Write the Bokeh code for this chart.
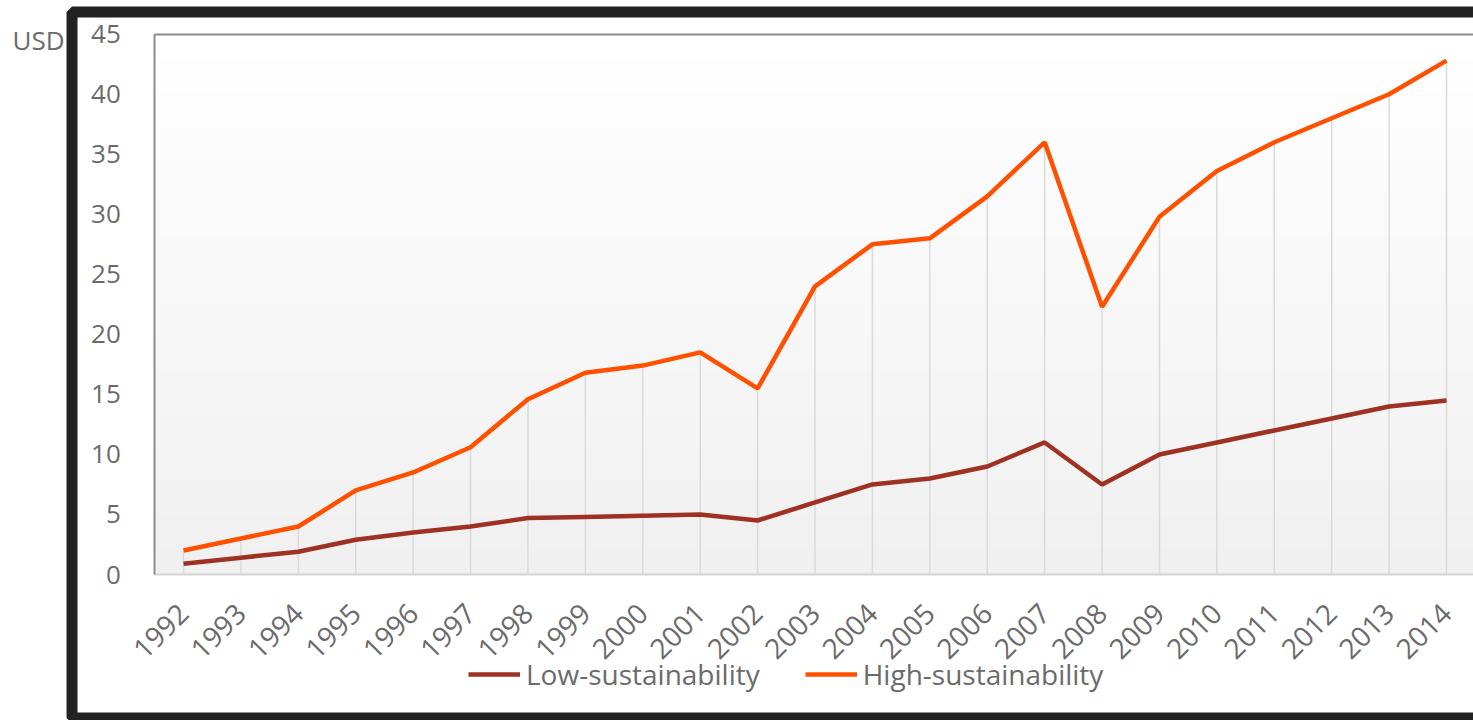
import numpy as np
from bokeh.plotting import figure
from bokeh.models import Range1d, FixedTicker, LinearAxis, BoxAnnotation, Label, Legend, LegendItem
from bokeh.embed import file_html
from bokeh.resources import INLINE

years = list(range(1992, 2015))
high = [2.0, 3.0, 4.0, 7.0, 8.5, 10.6, 14.6, 16.8, 17.4, 18.5, 15.5, 24.0,
        27.5, 28.0, 31.5, 36.0, 22.3, 29.8, 33.6, 36.0, 38.0, 40.0, 42.8]
low = [0.9, 1.4, 1.9, 2.9, 3.5, 4.0, 4.7, 4.8, 4.9, 5.0, 4.5, 6.0,
       7.5, 8.0, 9.0, 11.0, 7.5, 10.0, 11.0, 12.0, 13.0, 14.0, 14.5]
y_ticks = [0, 5, 10, 15, 20, 25, 30, 35, 40, 45]

FONT = "Open Sans"
TXT = "#6b6b6b"
X0, X1 = 1991.5, 2014.5   # plot area in data units
Y0, Y1 = 0, 45

p = figure(width=1473, height=720, output_backend="svg", toolbar_location=None,
           x_range=Range1d(1988.812, 2014.470), y_range=Range1d(-12.16, 47.81),
           min_border=0)
p.xgrid.visible = False
p.ygrid.visible = False
p.outline_line_color = None
p.background_fill_color = "white"
p.border_fill_color = "white"

# gradient background of the plot area (decorative)
N = 64
img = np.empty((N, 1), dtype=np.uint32)
view = img.view(dtype=np.uint8).reshape((N, 1, 4))
for i in range(N):
    v = int(round(240 + 15 * i / (N - 1)))
    view[i, 0, :] = [v, v, v, 255]
p.image_rgba(image=[img], x=X0, y=Y0, dw=X1 - X0, dh=Y1 - Y0)

# drop lines
p.segment(x0=years, y0=[0] * len(years), x1=years, y1=high, line_color="#dadada", line_width=1.5)

r_low = p.line(years, low, line_color="#9e3122", line_width=4.5)
r_high = p.line(years, high, line_color="#ff5000", line_width=4.5)

# axes (drawn at fixed locations inside the canvas)
xa = p.xaxis[0]
xa.fixed_location = 0
xa.bounds = (X0, 2016)
xa.ticker = FixedTicker(ticks=years)
xa.major_label_orientation = np.pi / 4
xa.major_label_text_font = FONT
xa.major_label_text_font_size = "28px"
xa.major_label_text_color = TXT
xa.major_label_standoff = 28
xa.major_tick_line_color = None
xa.minor_tick_line_color = None
xa.axis_line_color = "#d4d4d4"
xa.axis_line_width = 2

ya = p.yaxis[0]
ya.fixed_location = X0
ya.bounds = (Y0, Y1)
ya.ticker = FixedTicker(ticks=y_ticks)
ya.major_label_text_font = FONT
ya.major_label_text_font_size = "26px"
ya.major_label_text_color = TXT
ya.major_label_standoff = 28
ya.major_tick_line_color = None
ya.minor_tick_line_color = None
ya.axis_line_color = "#8c8c8c"
ya.axis_line_width = 2

top_axis = LinearAxis(fixed_location=Y1, bounds=(X0, 2016), ticker=FixedTicker(ticks=[]),
                      axis_line_color="#8c8c8c", axis_line_width=2,
                      major_tick_line_color=None, minor_tick_line_color=None,
                      major_label_text_color=None)
p.add_layout(top_axis, "above")

legend = Legend(items=[LegendItem(label="Low-sustainability", renderers=[r_low]),
                       LegendItem(label="High-sustainability", renderers=[r_high])],
                orientation="horizontal", location=(468, 27),
                label_text_font=FONT, label_text_font_size="28px", label_text_color=TXT,
                glyph_width=52, glyph_height=20, spacing=45, label_standoff=6,
                border_line_color=None, background_fill_alpha=0, padding=0, margin=0)
p.add_layout(legend, "center")

p.add_layout(Label(x=1989.927, y=44.48, text="USD", text_align="right", text_baseline="middle",
                   text_font=FONT, text_font_size="26px", text_color=TXT))

p.add_layout(BoxAnnotation(left=1990.058, right=2017, top=46.85, bottom=-11.95,
                           fill_color=None, fill_alpha=0, line_color="#222222", line_width=11,
                           line_alpha=1.0))

open("out.html", "w").write(file_html(p, INLINE))
